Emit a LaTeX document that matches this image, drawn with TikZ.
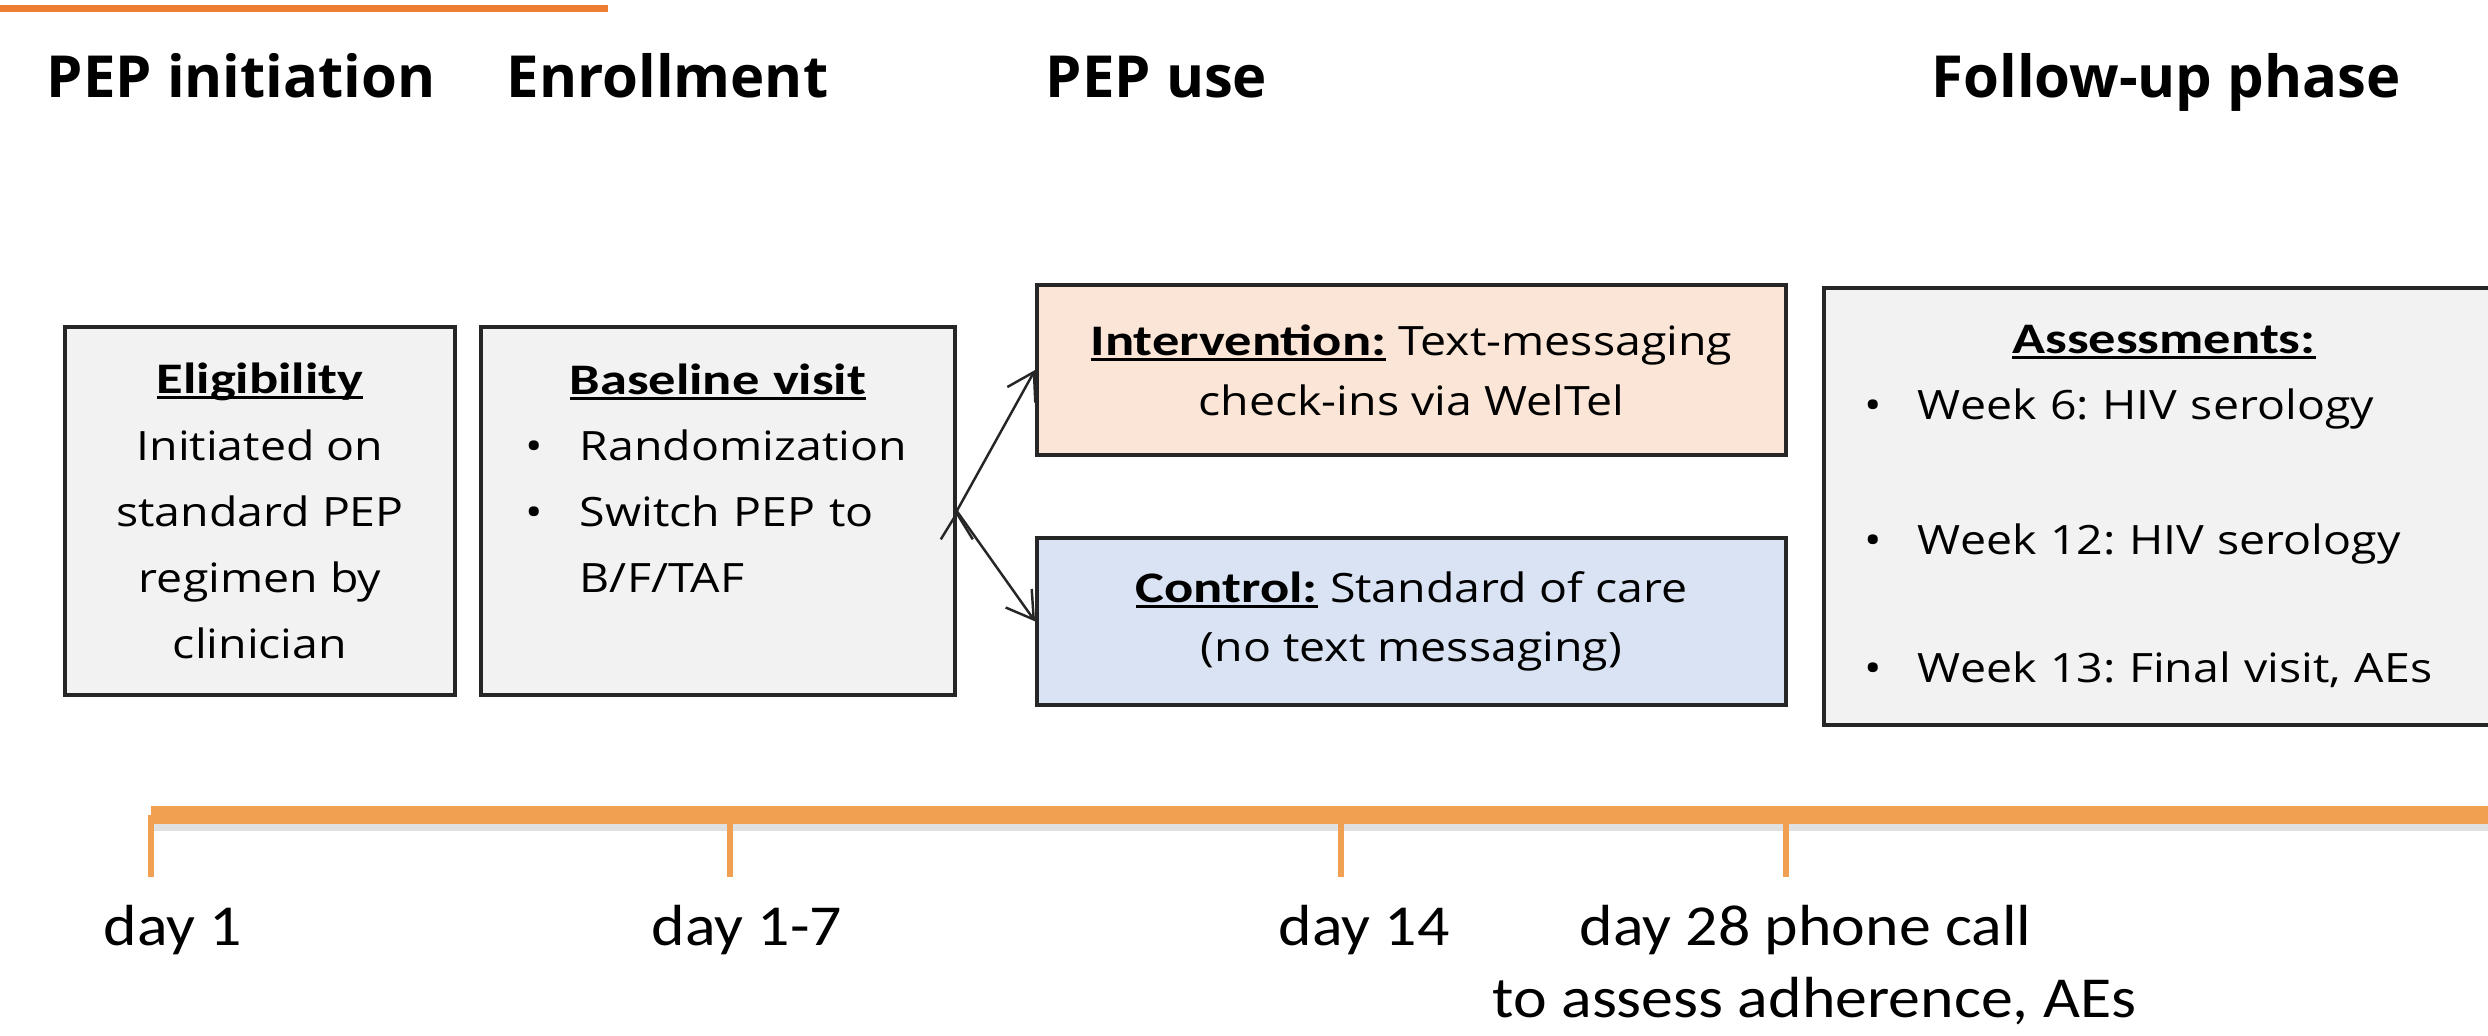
\documentclass[tikz,border=0pt]{standalone}
\usepackage{fontspec}
\setmainfont{Open Sans}
\newfontfamily\bodyfont{Open Sans}[FakeStretch=1.15]
\newfontfamily\headfont{Carlito}[FakeStretch=1.25]
\newfontfamily\dayfont{Carlito}[FakeStretch=1.1]
\usetikzlibrary{arrows.meta,positioning}
\frenchspacing

\definecolor{boxgray}{HTML}{F2F2F2}
\definecolor{peach}{HTML}{FBE5D6}
\definecolor{paleblue}{HTML}{DAE3F3}
\definecolor{lineorange}{HTML}{F0A050}
\definecolor{titleorange}{HTML}{ED7D31}

\newcommand\uln[1]{\setbox0\hbox{#1}\rlap{\rule[-0.55mm]{\wd0}{0.3mm}}\box0\relax}
\newcommand\bhead[1]{\uln{\headfont\bfseries\fontsize{12.4pt}{18.8pt}\selectfont #1}}
\newcommand\itm{\makebox[0.54cm][l]{\textbullet}}

\begin{document}
\begin{tikzpicture}[>={Straight Barb[length=2.6mm,width=3.2mm]},
  phase node/.style={font=\fontsize{16.5pt}{20pt}\selectfont\bfseries,
  anchor=base west,inner sep=0pt},
  box node/.style={draw=black!85,line width=1.1pt,fill=boxgray,inner sep=0pt,
  font=\bodyfont\fontsize{11.5pt}{18.8pt}\selectfont},
  arm node/.style={box node,minimum width=7.49cm,align=center,
  font=\bodyfont\fontsize{11.5pt}{17pt}\selectfont},
  day node/.style={font=\dayfont\fontsize{16.5pt}{20pt}\selectfont,
  anchor=base west,inner sep=0pt}]

  \path[use as bounding box,clip] (0,0) rectangle (24.88,10.35);
  \fill[white] (0,0) rectangle (24.88,10.35);
  \draw[titleorange,line width=2pt] (0,10.265) -- (6.08,10.265);

  \node[phase node] (init) at (0.46,9.38) {PEP initiation};
  \node[phase node] (enrol) at (5.06,9.38) {Enrollment};
  \node[phase node] (use) at (10.45,9.38) {PEP use};
  \node[phase node] (follow) at (19.31,9.38) {Follow-up phase};

  \node[box node,minimum width=3.9cm,minimum height=3.68cm,align=center] (elig) at (2.60,5.24)
    {\bhead{Eligibility}\\Initiated on\\standard PEP\\regimen by\\clinician};
  \node[box node,text width=3.84cm,inner xsep=0.45cm,minimum height=3.68cm,align=left] (base) [right=0.22cm of elig]
    {\makebox[\linewidth]{\bhead{Baseline visit}}\\\itm Randomization\\\itm Switch PEP to\\\hspace*{0.54cm}B/F/TAF\\\mbox{}};

  \node[arm node,fill=peach,minimum height=1.70cm] (inter) at (14.115,6.65)
    {\bhead{Intervention:} Text-messaging\\check-ins via WelTel};
  \node[arm node,fill=paleblue,minimum height=1.67cm] (ctrl) [below=0.79cm of inter]
    {\bhead{Control:} Standard of care\\(no text messaging)};

  \node[box node,text width=6.0cm,inner xsep=0.4cm,minimum height=4.37cm,align=left] (assess) at (21.64,5.285)
    {\makebox[\linewidth]{\bhead{Assessments:}}\\\itm Week 6: HIV serology\\[0.68cm]
     \itm Week 12: HIV serology\\[0.62cm]\itm Week 13: Final visit, AEs};

  \path[->,line width=0.7pt,draw=black!85]
    (base.east) edge (inter.west)
                edge (ctrl.west);

  % timeline with its day marks
  \coordinate (t1) at (1.51,2.20);
  \coordinate (t2) at (7.30,2.20);
  \coordinate (t3) at (13.41,2.20);
  \coordinate (t4) at (17.86,2.20);
  \coordinate (tend) at (25,2.20);
  \draw[black!12,line width=5pt] ([yshift=-2pt]t1) -- ([yshift=-2pt]tend);
  \draw[lineorange,line width=5pt] (t1) -- (tend);
  \foreach \t in {t1,t2,t3,t4}
    \draw[lineorange,line width=1.6pt] (\t) -- ++(0,-0.62);

  \node[day node] (d1) at (1.03,0.90) {day 1};
  \node[day node] (d2) at (6.51,0.90) {day 1-7};
  \node[day node] (d3) at (12.78,0.90) {day 14};
  \node[day node] (d4) at (15.79,0.90) {day 28 phone call};
  \node[day node] (d5) at (14.92,0.18) {to assess adherence, AEs};

\end{tikzpicture}
\end{document}
